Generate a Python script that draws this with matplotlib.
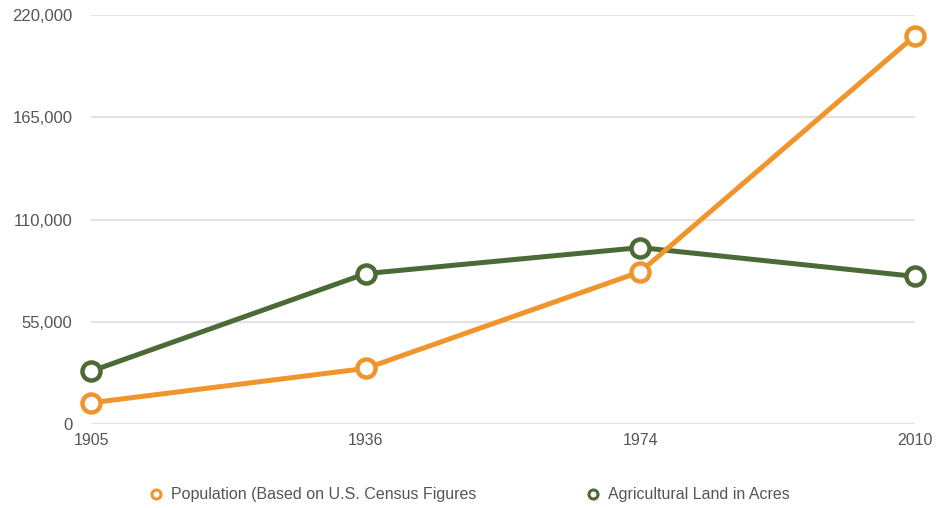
import matplotlib
matplotlib.use("Agg")
import matplotlib.pyplot as plt
from matplotlib.lines import Line2D
from matplotlib.ticker import FuncFormatter

years = ["1905", "1936", "1974", "2010"]
population = [11500, 30000, 82000, 209000]
farmland = [28500, 81000, 95000, 79500]
y_ticks = [0, 55000, 110000, 165000, 220000]

ORANGE = "#F0952B"
GREEN = "#4B6A35"
GRID = "#E3E3E3"
TXT = "#555555"

plt.rcParams["font.family"] = ["Liberation Sans", "DejaVu Sans"]

fig = plt.figure(figsize=(9.5, 5.08), dpi=100)
ax = fig.add_axes([0.0958, 0.165, 0.8674, 0.805])

x = range(len(years))
for vals, col in [(farmland, GREEN), (population, ORANGE)]:
    ax.plot(x, vals, color=col, lw=3.6, marker="o", ms=13,
            mfc="white", mec=col, mew=3.2, solid_capstyle="round",
            zorder=3, clip_on=False)

ax.set_xlim(0, len(years) - 1)
ax.set_ylim(0, 220000)
ax.set_yticks(y_ticks)
ax.yaxis.set_major_formatter(FuncFormatter(lambda v, p: f"{int(v):,}"))
ax.set_xticks(list(x))
ax.set_xticklabels(years)
ax.grid(axis="y", color=GRID, lw=1.5, zorder=0)
ax.tick_params(length=0, labelcolor=TXT)
ax.tick_params(axis="y", labelsize=12, pad=13.5)
ax.tick_params(axis="x", labelsize=11.5, pad=6)
for s in ax.spines.values():
    s.set_visible(False)
ax.axhline(0, color="#D6D6D6", lw=1.5, zorder=1)

handles = [
    Line2D([], [], ls="none", marker="o", ms=6.5, mfc="white", mec=ORANGE, mew=2.2),
    Line2D([], [], ls="none", marker="o", ms=6.5, mfc="white", mec=GREEN, mew=2.2),
]
labels = ["Population (Based on U.S. Census Figures", "Agricultural Land in Acres"]
leg = fig.legend(handles, labels, loc="center left", bbox_to_anchor=(0.157, 0.026),
                 ncol=2, frameon=False, fontsize=11.5, handlelength=0.8,
                 handletextpad=0.55, columnspacing=6.9, borderpad=0,
                 borderaxespad=0)
for t in leg.get_texts():
    t.set_color(TXT)

fig.savefig("out.png", dpi=100, facecolor="white")
